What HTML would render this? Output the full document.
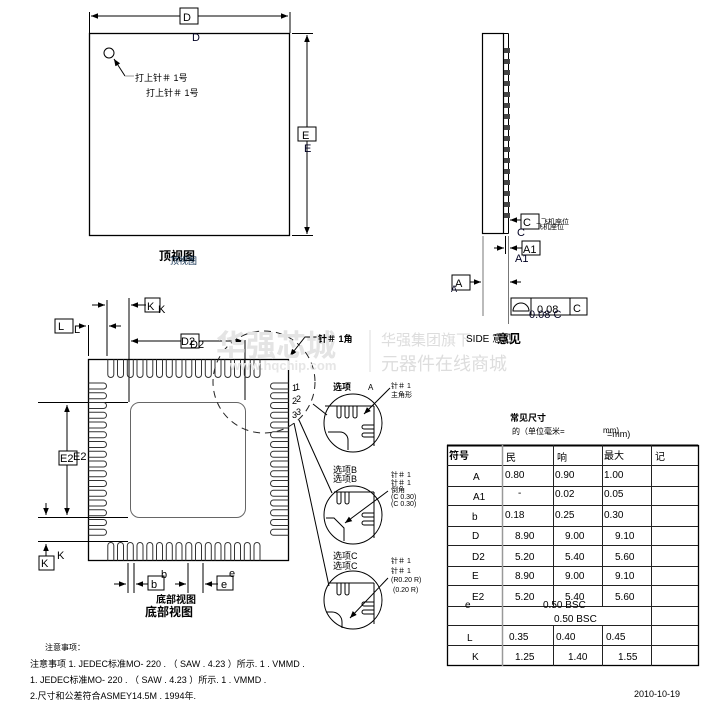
<!DOCTYPE html>
<html><head><meta charset="utf-8"><style>
html,body{margin:0;padding:0;background:#fff;}
svg{display:block;font-family:"Liberation Sans","Noto Sans CJK SC",sans-serif;}
</style></head><body>
<svg width="722" height="704" viewBox="0 0 722 704" xmlns="http://www.w3.org/2000/svg">
<defs>
<marker id="ar" viewBox="0 0 10 10" refX="10" refY="5" markerWidth="7" markerHeight="7" orient="auto-start-reverse"><path d="M0,1 L10,5 L0,9 z" fill="#000"/></marker>
<path id="pv" d="M-3,0 V15 A3,3 0 0 0 3,15 V0" fill="none" stroke="#333" stroke-width="1"/>
<path id="pvu" d="M-3,19 V4 A3,3 0 0 1 3,4 V19" fill="none" stroke="#333" stroke-width="1"/>
<path id="ph" d="M0,-3 H15 A3,3 0 0 1 15,3 H0" fill="none" stroke="#333" stroke-width="1"/>
<path id="phl" d="M19,-3 H4 A3,3 0 0 0 4,3 H19" fill="none" stroke="#333" stroke-width="1"/>
</defs>
<g stroke="#000" fill="none" stroke-width="1">
<!-- top view -->
<rect x="89.5" y="33.5" width="200" height="202" stroke-width="1.3"/>
<line x1="89.5" y1="12" x2="89.5" y2="33"/><line x1="290" y1="12" x2="290" y2="33"/>
<line x1="91" y1="16" x2="288" y2="16" marker-start="url(#ar)" marker-end="url(#ar)"/>
<rect x="180" y="8" width="18" height="16" fill="#fff"/>
<line x1="292" y1="33.5" x2="313" y2="33.5"/><line x1="292" y1="235.5" x2="313" y2="235.5"/>
<line x1="307" y1="35" x2="307" y2="234" marker-start="url(#ar)" marker-end="url(#ar)"/>
<rect x="298" y="127" width="18" height="14" fill="#fff"/>
<circle cx="109" cy="53" r="5"/>
<polyline points="125,76 114,59" marker-end="url(#ar)"/><line x1="125" y1="76" x2="134" y2="76" stroke="#999"/>
<!-- side view -->
<rect x="482.5" y="33.5" width="21" height="200" stroke-width="1.2"/>
<line x1="503.5" y1="33.5" x2="508.5" y2="33.5"/><line x1="508.5" y1="33.5" x2="508.5" y2="233.5"/><line x1="503.5" y1="233.5" x2="508.5" y2="233.5"/>
<line x1="483" y1="236" x2="483" y2="316" stroke="#777"/>
<line x1="508.5" y1="236" x2="508.5" y2="324" stroke="#777"/>
<line x1="505.5" y1="236" x2="505.5" y2="254"/>
<line x1="494" y1="248" x2="504" y2="248" marker-end="url(#ar)"/>
<line x1="522" y1="248" x2="510" y2="248" marker-end="url(#ar)"/>
<rect x="522" y="241" width="18" height="14"/>
<line x1="521" y1="220" x2="510" y2="220" marker-end="url(#ar)"/>
<rect x="521" y="214" width="18" height="15"/>
<line x1="470" y1="282" x2="481" y2="282" marker-end="url(#ar)"/>
<line x1="521" y1="282" x2="510" y2="282" marker-end="url(#ar)"/>
<rect x="452" y="275" width="18" height="15"/>
<rect x="511" y="298" width="76" height="17"/>
<line x1="531" y1="298" x2="531" y2="315"/><line x1="570" y1="298" x2="570" y2="315"/>
<path d="M513,311 A8,8 0 0 1 529,311 Z"/>
<!-- bottom view -->
<rect x="88.5" y="359.5" width="200" height="201" stroke-width="1.3"/>
<rect x="130.5" y="402.5" width="115" height="115" rx="9" stroke="#666"/>
<!-- dims -->
<line x1="88.5" y1="325" x2="88.5" y2="356"/>
<line x1="107" y1="300" x2="107" y2="356"/>
<line x1="129" y1="298" x2="129" y2="402"/>
<line x1="245" y1="340" x2="245" y2="400"/>
<line x1="92" y1="305" x2="105" y2="305" marker-end="url(#ar)"/>
<line x1="121" y1="326" x2="109" y2="326" marker-end="url(#ar)"/>
<line x1="76" y1="326" x2="86" y2="326" marker-end="url(#ar)"/>
<line x1="146" y1="305" x2="131" y2="305" marker-end="url(#ar)"/>
<rect x="145" y="298" width="15" height="14"/>
<rect x="55" y="319" width="18" height="14"/>
<line x1="131" y1="341" x2="243" y2="341" marker-start="url(#ar)" marker-end="url(#ar)"/>
<rect x="181" y="334" width="18" height="14" fill="#fff"/>
<line x1="38" y1="402.5" x2="128" y2="402.5"/>
<line x1="38" y1="517.5" x2="128" y2="517.5"/>
<line x1="38" y1="541.5" x2="128" y2="541.5"/>
<line x1="67" y1="405" x2="67" y2="515" marker-start="url(#ar)" marker-end="url(#ar)"/>
<rect x="59" y="451" width="18" height="14" fill="#fff"/>
<line x1="46" y1="503" x2="46" y2="515" marker-end="url(#ar)"/>
<line x1="46" y1="556" x2="46" y2="544" marker-end="url(#ar)"/>
<rect x="39" y="556" width="15" height="14"/>
<line x1="128" y1="563" x2="128" y2="593"/><line x1="134" y1="563" x2="134" y2="593"/>
<line x1="188" y1="563" x2="188" y2="593"/><line x1="203" y1="563" x2="203" y2="593"/>
<line x1="114" y1="584" x2="126" y2="584" marker-end="url(#ar)"/>
<line x1="148" y1="584" x2="136" y2="584" marker-end="url(#ar)"/>
<line x1="175" y1="584" x2="186" y2="584" marker-end="url(#ar)"/>
<line x1="218" y1="584" x2="205" y2="584" marker-end="url(#ar)"/>
<rect x="148" y="576" width="16" height="14"/>
<rect x="217" y="576" width="16" height="14"/>
<!-- dashed circle -->
<circle cx="264" cy="382" r="51" stroke-dasharray="7,5" stroke="#222"/>
<polyline points="318,337 305,337 290,356" marker-end="url(#ar)"/>
<line x1="313" y1="404" x2="327" y2="415"/>
<line x1="299" y1="420" x2="332" y2="493"/>
<line x1="294" y1="423" x2="329" y2="586"/>
<!-- details -->
<g>
<circle cx="353" cy="423" r="29"/>
<line x1="325" y1="406" x2="374" y2="406"/><line x1="374" y1="406" x2="374" y2="446"/>
<path d="M337,406 v10 a2,2 0 0 0 4,0 v-10 M345,406 v10 a2,2 0 0 0 4,0 v-10 M353,406 v10 a2,2 0 0 0 4,0 v-10"/>
<path d="M374,425 h-10 a2,2 0 0 0 0,4 h10 M374,433 h-10 a2,2 0 0 0 0,4 h10"/>
<path d="M328,432 h12 a8,8 0 0 1 8,8 v10"/>
<line x1="390" y1="388" x2="364" y2="414" marker-end="url(#ar)"/>
</g>
<g>
<circle cx="353" cy="515" r="29"/>
<line x1="334" y1="492" x2="374" y2="492"/><line x1="374" y1="492" x2="374" y2="538"/>
<path d="M337,492 v10 a2,2 0 0 0 4,0 v-10 M345,492 v10 a2,2 0 0 0 4,0 v-10"/>
<path d="M374,513 h-10 a2,2 0 0 0 0,4 h10 M374,521 h-10 a2,2 0 0 0 0,4 h10"/>
<path d="M326,518 h8 l10,10 v13"/>
<line x1="388" y1="491" x2="345" y2="523" marker-end="url(#ar)"/>
</g>
<g>
<circle cx="353" cy="600" r="29"/>
<line x1="330" y1="583" x2="374" y2="583"/><line x1="374" y1="583" x2="374" y2="624"/>
<path d="M337,583 v10 a2,2 0 0 0 4,0 v-10 M345,583 v10 a2,2 0 0 0 4,0 v-10"/>
<path d="M374,602 h-10 a2,2 0 0 0 0,4 h10 M374,610 h-10 a2,2 0 0 0 0,4 h10"/>
<path d="M326,612 h6 a10,10 0 0 1 10,10 v6"/>
<line x1="388" y1="578" x2="350" y2="618" marker-end="url(#ar)"/>
</g>
<!-- table -->
<rect x="447.5" y="445.5" width="251" height="220" stroke-width="1.3"/>
<line x1="447" y1="445.5" x2="698" y2="445.5" stroke-width="2"/>
<g stroke="#222">
<line x1="447" y1="465.5" x2="698" y2="465.5"/><line x1="447" y1="486.5" x2="698" y2="486.5"/>
<line x1="447" y1="505.5" x2="698" y2="505.5"/><line x1="447" y1="526.5" x2="698" y2="526.5"/>
<line x1="447" y1="545.5" x2="698" y2="545.5"/><line x1="447" y1="566.5" x2="698" y2="566.5"/>
<line x1="447" y1="585.5" x2="698" y2="585.5"/><line x1="447" y1="606.5" x2="698" y2="606.5"/>
<line x1="447" y1="625.5" x2="698" y2="625.5"/><line x1="447" y1="645.5" x2="698" y2="645.5"/>
<line x1="502.5" y1="445" x2="502.5" y2="666" stroke="#999" stroke-width="1.5"/>
<line x1="553.5" y1="445" x2="553.5" y2="606"/><line x1="553.5" y1="625" x2="553.5" y2="666"/>
<line x1="602.5" y1="445" x2="602.5" y2="606"/><line x1="602.5" y1="625" x2="602.5" y2="666"/>
<line x1="651.5" y1="445" x2="651.5" y2="666"/>
</g>
</g>
<!-- pads -->
<g>
<use href="#pv" x="110.8" y="359.5"/><use href="#pv" x="120.5" y="359.5"/><use href="#pv" x="130.3" y="359.5"/><use href="#pv" x="140" y="359.5"/><use href="#pv" x="149.8" y="359.5"/><use href="#pv" x="159.5" y="359.5"/><use href="#pv" x="169.3" y="359.5"/><use href="#pv" x="179" y="359.5"/><use href="#pv" x="188.8" y="359.5"/><use href="#pv" x="198.5" y="359.5"/><use href="#pv" x="208.3" y="359.5"/><use href="#pv" x="218" y="359.5"/><use href="#pv" x="227.8" y="359.5"/><use href="#pv" x="237.5" y="359.5"/><use href="#pv" x="247.3" y="359.5"/><use href="#pv" x="257" y="359.5"/>
<use href="#pvu" x="110.8" y="541.5"/><use href="#pvu" x="120.5" y="541.5"/><use href="#pvu" x="130.3" y="541.5"/><use href="#pvu" x="140" y="541.5"/><use href="#pvu" x="149.8" y="541.5"/><use href="#pvu" x="159.5" y="541.5"/><use href="#pvu" x="169.3" y="541.5"/><use href="#pvu" x="179" y="541.5"/><use href="#pvu" x="188.8" y="541.5"/><use href="#pvu" x="198.5" y="541.5"/><use href="#pvu" x="208.3" y="541.5"/><use href="#pvu" x="218" y="541.5"/><use href="#pvu" x="227.8" y="541.5"/><use href="#pvu" x="237.5" y="541.5"/><use href="#pvu" x="247.3" y="541.5"/><use href="#pvu" x="257" y="541.5"/>
<use href="#ph" x="88.5" y="386"/><use href="#ph" x="88.5" y="395.8"/><use href="#ph" x="88.5" y="405.5"/><use href="#ph" x="88.5" y="415.3"/><use href="#ph" x="88.5" y="425"/><use href="#ph" x="88.5" y="434.8"/><use href="#ph" x="88.5" y="444.5"/><use href="#ph" x="88.5" y="454.3"/><use href="#ph" x="88.5" y="464"/><use href="#ph" x="88.5" y="473.8"/><use href="#ph" x="88.5" y="483.5"/><use href="#ph" x="88.5" y="493.3"/><use href="#ph" x="88.5" y="503"/><use href="#ph" x="88.5" y="512.8"/><use href="#ph" x="88.5" y="522.5"/><use href="#ph" x="88.5" y="532.3"/>
<use href="#phl" x="269.5" y="386"/><use href="#phl" x="269.5" y="395.8"/><use href="#phl" x="269.5" y="405.5"/><use href="#phl" x="269.5" y="415.3"/><use href="#phl" x="269.5" y="425"/><use href="#phl" x="269.5" y="434.8"/><use href="#phl" x="269.5" y="444.5"/><use href="#phl" x="269.5" y="454.3"/><use href="#phl" x="269.5" y="464"/><use href="#phl" x="269.5" y="473.8"/><use href="#phl" x="269.5" y="483.5"/><use href="#phl" x="269.5" y="493.3"/><use href="#phl" x="269.5" y="503"/><use href="#phl" x="269.5" y="512.8"/><use href="#phl" x="269.5" y="522.5"/><use href="#phl" x="269.5" y="532.3"/>
</g>
<g fill="#444">
<rect x="504" y="48" width="6" height="5"/><rect x="504" y="59" width="6" height="5"/><rect x="504" y="70" width="6" height="5"/><rect x="504" y="81" width="6" height="5"/><rect x="504" y="92" width="6" height="5"/><rect x="504" y="103" width="6" height="5"/><rect x="504" y="114" width="6" height="5"/><rect x="504" y="125" width="6" height="5"/><rect x="504" y="136" width="6" height="5"/><rect x="504" y="147" width="6" height="5"/><rect x="504" y="158" width="6" height="5"/><rect x="504" y="169" width="6" height="5"/><rect x="504" y="180" width="6" height="5"/><rect x="504" y="191" width="6" height="5"/><rect x="504" y="202" width="6" height="5"/><rect x="504" y="213" width="6" height="5"/>
</g>
<!-- watermark -->
<g font-weight="bold" fill="#e4e4e4" font-size="30"><text x="216" y="356">华强芯城</text></g>
<text x="230" y="370" fill="#e6e6e6" font-size="13" font-weight="bold">www.hqchip.com</text>
<line x1="370" y1="330" x2="370" y2="372" stroke="#ddd"/>
<text x="381" y="345" fill="#ddd" font-size="15">华强集团旗下</text>
<text x="381" y="370" fill="#ddd" font-size="18">元器件在线商城</text>
<!-- labels -->
<g font-size="11" fill="#000">
<text x="183" y="21">D</text><text x="192" y="41" fill="#002">D</text>
<text x="302" y="139">E</text><text x="304" y="152" fill="#002">E</text>
<text x="135" y="81" font-size="9">打上针＃ 1号</text><text x="146" y="96" font-size="9">打上针＃ 1号</text>
<text x="159" y="260" font-size="12" font-weight="bold">顶视图</text><text x="170" y="264" font-size="9" fill="#024">顶视图</text>
<text x="523" y="226">C</text><text x="517" y="236" fill="#002">C</text>
<text x="541" y="224" font-size="7">飞机座位</text><text x="536" y="229" font-size="7">飞机座位</text>
<text x="523" y="253">A1</text><text x="515" y="262" fill="#002">A1</text>
<text x="455" y="287">A</text><text x="451" y="292" fill="#002" font-size="9">A</text>
<text x="537" y="313">0.08</text><text x="529" y="318" fill="#002">0.08 C</text><text x="573" y="312">C</text>
<text x="466" y="342" font-size="10">SIDE 意见</text><text x="497" y="343" font-size="12" font-weight="bold">意见</text>
<text x="147" y="310">K</text><text x="158" y="313">K</text>
<text x="58" y="330">L</text><text x="74" y="333">L</text>
<text x="181" y="345">D2</text><text x="190" y="348">D2</text>
<text x="60" y="462">E2</text><text x="73" y="460">E2</text>
<text x="41" y="567">K</text><text x="57" y="559">K</text>
<text x="151" y="588">b</text><text x="161" y="578">b</text>
<text x="221" y="588">e</text><text x="229" y="577">e</text>
<text x="156" y="603" font-size="10" font-weight="bold">底部视图</text>
<text x="145" y="616" font-size="12" font-weight="bold">底部视图</text>
<text x="318" y="342" font-size="9" font-weight="bold">针＃ 1角</text>
<text x="292" y="391" font-size="9">1</text><text x="295" y="390" font-size="9">1</text>
<text x="292" y="404" font-size="9">2</text><text x="296" y="402" font-size="9">2</text>
<text x="292" y="418" font-size="9">3</text><text x="296" y="415" font-size="9">3</text>
<text x="333" y="390" font-size="9" font-weight="bold">选项</text><text x="368" y="390" font-size="8">A</text>
<text x="391" y="388" font-size="7">针＃ 1</text><text x="391" y="397" font-size="7">主角形</text>
<text x="333" y="473" font-size="9">选项B</text><text x="333" y="482" font-size="9">选项B</text>
<text x="391" y="477" font-size="7">针＃ 1</text><text x="391" y="485" font-size="7">针＃ 1</text>
<text x="391" y="492" font-size="7">倒角</text><text x="391" y="499" font-size="7">(C 0.30)</text><text x="391" y="506" font-size="7">(C 0.30)</text>
<text x="333" y="559" font-size="9">选项C</text><text x="333" y="569" font-size="9">选项C</text>
<text x="391" y="563" font-size="7">针＃ 1</text><text x="391" y="573" font-size="7">针＃ 1</text>
<text x="391" y="582" font-size="7">(R0.20 R)</text><text x="393" y="592" font-size="7">(0.20 R)</text>
<text x="510" y="421" font-size="9" font-weight="bold">常见尺寸</text>
<text x="512" y="434" font-size="8">的（单位毫米=</text><text x="603" y="433" font-size="8">mm)</text><text x="607" y="437" font-size="9">=mm)</text>
<text x="634" y="697" font-size="9">2010-10-19</text>
<text x="45" y="650" font-size="8">注意事项：</text>
<text x="30" y="667" font-size="9">注意事项 1. JEDEC标准MO- 220 .  （ SAW . 4.23 ）所示.  1 .   VMMD .</text>
<text x="30" y="683" font-size="9">1. JEDEC标准MO- 220 .  （ SAW . 4.23 ）所示.  1 .   VMMD .</text>
<text x="30" y="699" font-size="9">2.尺寸和公差符合ASMEY14.5M .  1994年.</text>
</g>
<g font-size="10" fill="#000">
<text x="449" y="459" font-weight="bold">符号</text><text x="506" y="461">民</text><text x="557" y="461">响</text><text x="604" y="459">最大</text><text x="655" y="460">记</text>
<text x="473" y="480">A</text><text x="505" y="478">0.80</text><text x="555" y="478">0.90</text><text x="604" y="478">1.00</text>
<text x="473" y="500">A1</text><text x="518" y="496">-</text><text x="555" y="497">0.02</text><text x="604" y="497">0.05</text>
<text x="472" y="520">b</text><text x="505" y="518">0.18</text><text x="555" y="518">0.25</text><text x="604" y="518">0.30</text>
<text x="472" y="539">D</text><text x="515" y="539">8.90</text><text x="565" y="539">9.00</text><text x="615" y="539">9.10</text>
<text x="472" y="560">D2</text><text x="515" y="560">5.20</text><text x="565" y="560">5.40</text><text x="615" y="560">5.60</text>
<text x="472" y="579">E</text><text x="515" y="579">8.90</text><text x="565" y="579">9.00</text><text x="615" y="579">9.10</text>
<text x="472" y="600">E2</text><text x="515" y="600">5.20</text><text x="565" y="600">5.40</text><text x="615" y="600">5.60</text>
<text x="465" y="608">e</text><text x="543" y="608">0.50 BSC</text><text x="554" y="622">0.50 BSC</text>
<text x="467" y="641">L</text><text x="509" y="640">0.35</text><text x="556" y="640">0.40</text><text x="606" y="640">0.45</text>
<text x="472" y="660">K</text><text x="515" y="660">1.25</text><text x="568" y="660">1.40</text><text x="618" y="660">1.55</text>
</g>
</svg>
</body></html>
